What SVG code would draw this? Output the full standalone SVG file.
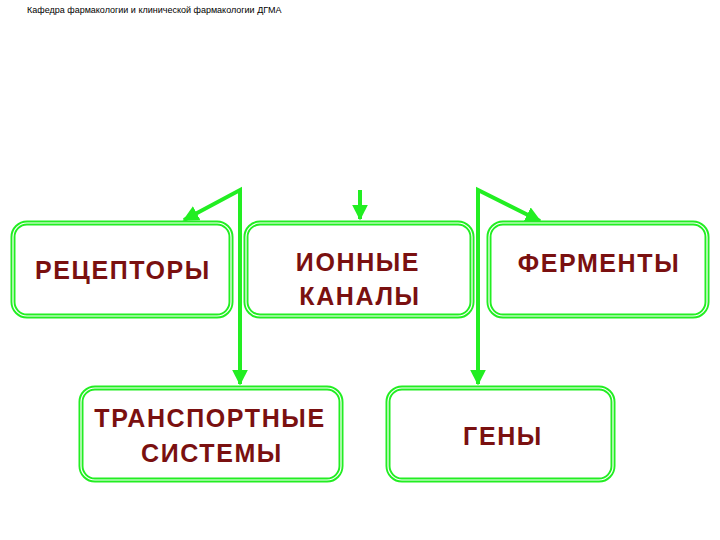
<svg xmlns="http://www.w3.org/2000/svg" width="720" height="540" viewBox="0 0 720 540">
<style>
.b{fill:#fff;stroke:#22ee22;stroke-width:5}
.bi{fill:none;stroke:#fff;stroke-width:1.2}
.t{font-family:"Liberation Sans",Arial,sans-serif;font-size:25px;font-weight:bold;letter-spacing:1.6px;fill:#7a1010;text-anchor:middle}
.c{fill:none;stroke:#22ee22;stroke-width:4;stroke-linejoin:miter}
</style>
<defs><marker id="a" viewBox="0 0 10 10" refX="9" refY="5" markerWidth="4" markerHeight="4" orient="auto-start-reverse"><path d="M0,0L10,5L0,10z" fill="#22ee22"/></marker></defs>
<rect width="720" height="540" fill="#fff"/>
<text x="27" y="13" font-family="Liberation Sans,Arial,sans-serif" font-size="9" fill="#000">Кафедра фармакологии и клинической фармакологии ДГМА</text>
<g id="connectors">
<polyline class="c" points="240,384 240,190 184,220" marker-start="url(#a)" marker-end="url(#a)"/>
<polyline class="c" points="478,384 478,190 540,221" marker-start="url(#a)" marker-end="url(#a)"/>
<line class="c" x1="360" y1="190" x2="360" y2="219" stroke="#88ee33" marker-end="url(#a)"/>
</g>
<g id="n1"><rect class="b" x="13" y="223" width="218" height="93" rx="14"/><rect class="bi" x="13" y="223" width="218" height="93" rx="14"/><text class="t" x="123" y="279">РЕЦЕПТОРЫ</text></g>
<g id="n2"><rect class="b" x="246" y="223" width="226" height="93" rx="14"/><rect class="bi" x="246" y="223" width="226" height="93" rx="14"/><text class="t" x="358" y="271">ИОННЫЕ</text><text class="t" x="360" y="305">КАНАЛЫ</text></g>
<g id="n3"><rect class="b" x="489" y="223" width="218" height="93" rx="14"/><rect class="bi" x="489" y="223" width="218" height="93" rx="14"/><text class="t" x="599" y="272">ФЕРМЕНТЫ</text></g>
<g id="n4"><rect class="b" x="81" y="388" width="260" height="92" rx="14"/><rect class="bi" x="81" y="388" width="260" height="92" rx="14"/><text class="t" x="210" y="427">ТРАНСПОРТНЫЕ</text><text class="t" x="212" y="462">СИСТЕМЫ</text></g>
<g id="n5"><rect class="b" x="388" y="388" width="225" height="92" rx="14"/><rect class="bi" x="388" y="388" width="225" height="92" rx="14"/><text class="t" x="503" y="445">ГЕНЫ</text></g>
</svg>
